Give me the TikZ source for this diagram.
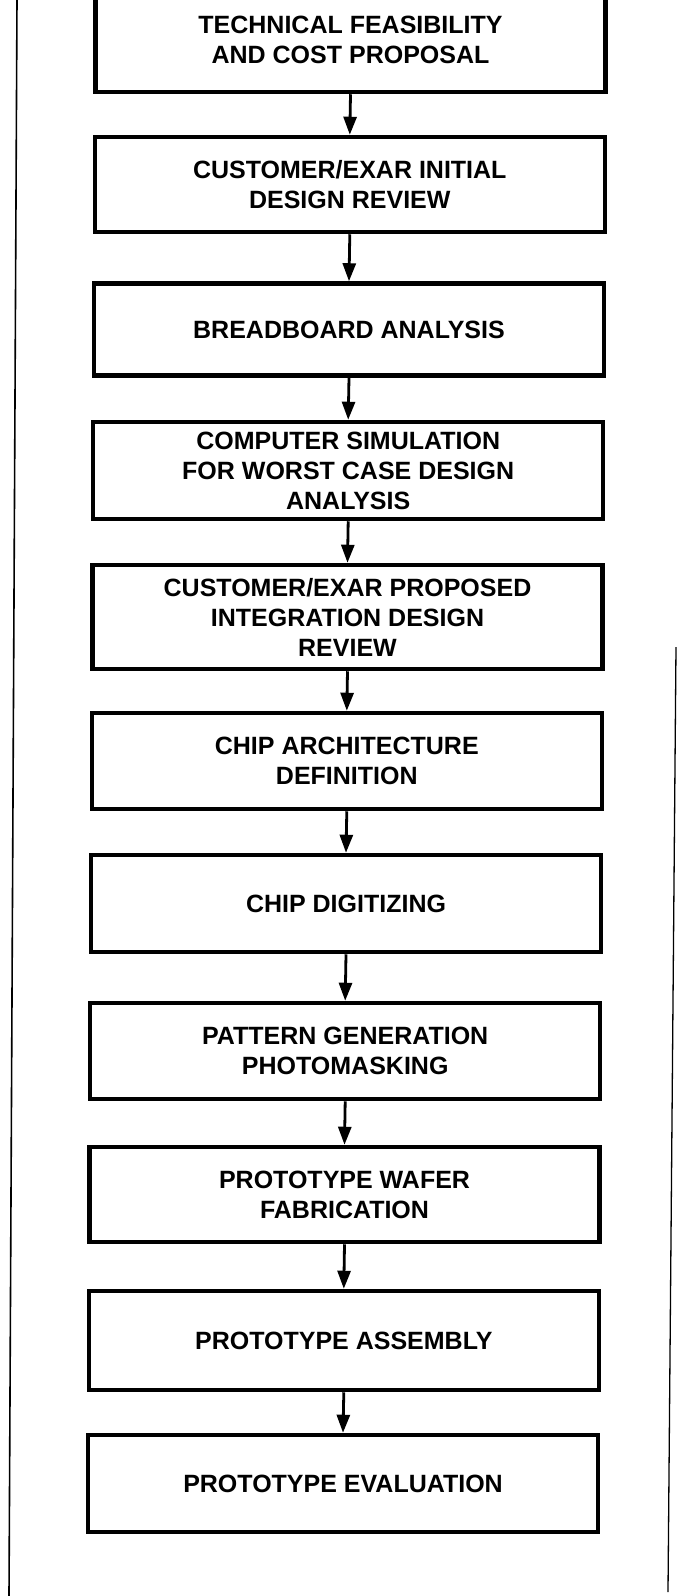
\documentclass[tikz,border=0pt]{standalone}
\usepackage{fontspec}
\setmainfont{Liberation Sans}
\usetikzlibrary{arrows.meta}
\tikzset{
  stagebox/.style={draw=black, line width=4.5pt, rectangle, minimum width=510pt,
    inner sep=0pt, align=center, font=\bfseries\fontsize{25}{30}\selectfont},
  flowarrow/.style={draw=black, line width=2.8pt, -{Triangle[length=18pt,width=13pt]}},
  edgeline/.style={draw=black, line width=1.6pt}
}
\begin{document}
\begin{tikzpicture}[x=1pt,y=-1pt]
\clip (0,0) rectangle (677,1596);
\fill[white] (0,0) rectangle (677,1596);
% frame lines
\coordinate (lt) at (17,0);
\coordinate (lb) at (9,1596);
\coordinate (rt) at (676,647);
\coordinate (rb) at (668,1592);
\draw[edgeline] (lt) -- (lb);
\draw[edgeline, line width=1.3pt] (rt) -- (rb);
% boxes
\node[stagebox, minimum height=104pt] (b1) at (350.5,40) {TECHNICAL FEASIBILITY\\AND COST PROPOSAL};
\node[stagebox, minimum height=95pt] (b2) at (349.8,184.5) {CUSTOMER/EXAR INITIAL\\DESIGN REVIEW};
\node[stagebox, minimum height=92pt] (b3) at (349.0,329.5) {BREADBOARD ANALYSIS};
\node[stagebox, minimum height=97pt] (b4) at (348.2,470.5) {COMPUTER SIMULATION\\FOR WORST CASE DESIGN\\ANALYSIS};
\node[stagebox, minimum height=104pt] (b5) at (347.5,617) {CUSTOMER/EXAR PROPOSED\\INTEGRATION DESIGN\\REVIEW};
\node[stagebox, minimum height=96pt] (b6) at (346.8,761) {CHIP ARCHITECTURE\\DEFINITION};
\node[stagebox, minimum height=97pt] (b7) at (346.0,903.5) {CHIP DIGITIZING};
\node[stagebox, minimum height=96pt] (b8) at (345.2,1051) {PATTERN GENERATION\\PHOTOMASKING};
\node[stagebox, minimum height=95pt] (b9) at (344.5,1194.5) {PROTOTYPE WAFER\\FABRICATION};
\node[stagebox, minimum height=99pt] (b10) at (343.8,1340.5) {PROTOTYPE ASSEMBLY};
\node[stagebox, minimum height=97pt] (b11) at (343.0,1483.5) {PROTOTYPE EVALUATION};
% arrows
\draw[flowarrow] (b1.south) -- (b2.north);
\draw[flowarrow] (b2.south) -- (b3.north);
\draw[flowarrow] (b3.south) -- (b4.north);
\draw[flowarrow] (b4.south) -- (b5.north);
\draw[flowarrow] (b5.south) -- (b6.north);
\draw[flowarrow] (b6.south) -- (b7.north);
\draw[flowarrow] (b7.south) -- (b8.north);
\draw[flowarrow] (b8.south) -- (b9.north);
\draw[flowarrow] (b9.south) -- (b10.north);
\draw[flowarrow] (b10.south) -- (b11.north);
\end{tikzpicture}
\end{document}
